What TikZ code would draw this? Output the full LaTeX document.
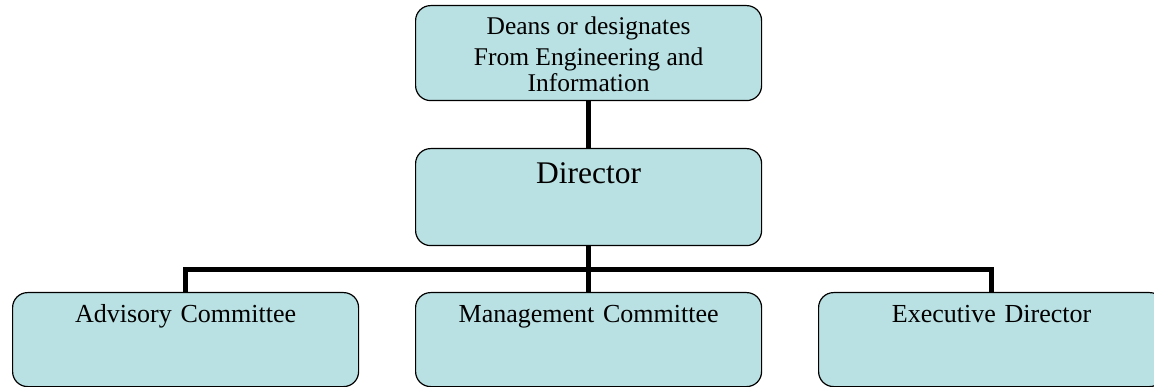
\documentclass[tikz,border=0pt]{standalone}
\usepackage{fontspec}
\setmainfont{Liberation Serif}
\definecolor{boxfill}{RGB}{185,224,226}
\begin{document}
\begin{tikzpicture}[x=1pt,y=-1pt,
  box/.style={draw=black,line width=1.2pt,fill=boxfill,rounded corners=15pt,inner sep=0pt,anchor=north west},
  conn/.style={line width=5pt,line join=miter,line cap=butt}]
\useasboundingbox (0,0) rectangle (1154,387);
\clip (0,0) rectangle (1154,387);
% top box
\node[box,minimum width=346pt,text height=86pt,text depth=9pt,
  font=\fontsize{25.5}{27}\selectfont] (deans) at (415,5)
  {\shortstack{Deans or designates\\[4pt]From Engineering and\\[0pt]Information}};
% director
\node[box,minimum width=346pt,text height=35pt,text depth=62pt,text width=346pt,align=center,
  font=\fontsize{31.5}{34}\selectfont] (dir) at (415,148) {Director};
% bottom boxes
\node[box,minimum width=346pt,text height=30pt,text depth=64pt,text width=346pt,align=center,
  font=\fontsize{26}{28}\selectfont] (adv) at (12,292) {Advisory Committee};
\node[box,minimum width=346pt,text height=30pt,text depth=64pt,text width=346pt,align=center,
  font=\fontsize{26}{28}\selectfont] (mgmt) at (415,292) {Management Committee};
\node[box,minimum width=346pt,text height=30pt,text depth=64pt,text width=346pt,align=center,
  font=\fontsize{26}{28}\selectfont] (exe) at (818,292) {Executive Director};
% connectors
\coordinate (bus) at (588,270);
\draw[conn] (deans.south) -- (dir.north);
\draw[conn] (dir.south) -- (mgmt.north);
\draw[conn] (adv.north) |- (bus) -| (exe.north);
\end{tikzpicture}
\end{document}
